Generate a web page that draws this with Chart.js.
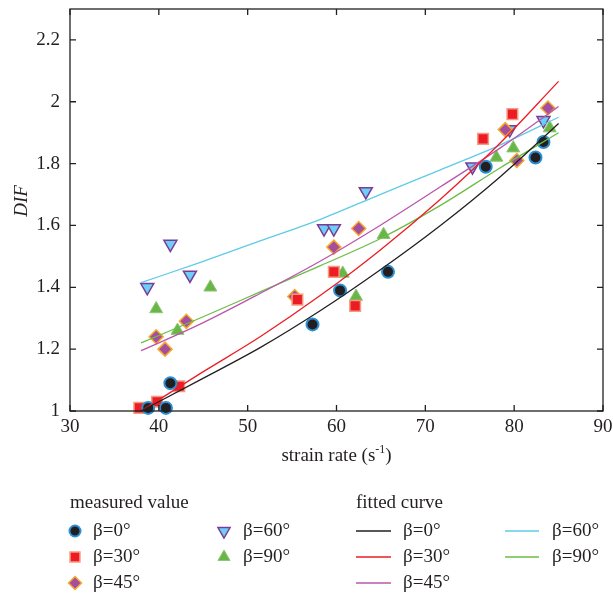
<!DOCTYPE html>
<html>
<head>
<meta charset="utf-8">
<title>DIF vs strain rate</title>
<script src="https://cdn.jsdelivr.net/npm/chart.js@4.4.0/dist/chart.umd.min.js"></script>
<style>
    html, body { margin: 0; padding: 0; background: #fff; }
    #wrap { width: 613px; height: 601px; }
</style>
</head>
<body>
<div id="wrap"><canvas id="graficoDIF" width="613" height="601"></canvas></div>
<script>
// axis ticks
var xTicks = [30, 40, 50, 60, 70, 80, 90];
var yTicks = [1, 1.2, 1.4, 1.6, 1.8, 2, 2.2];
var yTickLabels = ["1", "1.2", "1.4", "1.6", "1.8", "2", "2.2"];

// measured values
var rate0 = [38.8, 40.8, 41.3, 57.3, 60.4, 65.8, 76.8, 82.4, 83.3];
var dif0 = [1.01, 1.01, 1.09, 1.28, 1.39, 1.45, 1.79, 1.82, 1.87];
var rate30 = [37.8, 39.8, 42.3, 55.6, 59.7, 62.1, 76.5, 79.8];
var dif30 = [1.01, 1.03, 1.08, 1.36, 1.45, 1.34, 1.88, 1.96];
var rate45 = [39.7, 40.7, 43.1, 55.3, 59.7, 62.5, 79.0, 80.3, 83.8];
var dif45 = [1.24, 1.20, 1.29, 1.37, 1.53, 1.59, 1.91, 1.81, 1.98];
var rate60 = [38.7, 41.3, 43.5, 58.6, 59.7, 63.3, 75.3, 79.5, 83.3];
var dif60 = [1.40, 1.54, 1.44, 1.59, 1.59, 1.71, 1.79, 1.91, 1.94];
var rate90 = [39.7, 42.1, 45.8, 60.7, 62.2, 65.3, 78.0, 79.9, 84.0];
var dif90 = [1.33, 1.26, 1.40, 1.445, 1.37, 1.57, 1.82, 1.85, 1.915];

// fitted curves
var fitRate = [38, 44.6, 51.4, 58.2, 64.9, 71.7, 78.4, 85];
var fit0 = [1.00, 1.10, 1.205, 1.325, 1.456, 1.60, 1.757, 1.93];
var fit30 = [1.00, 1.12, 1.24, 1.374, 1.52, 1.685, 1.866, 2.066];
var fit45 = [1.195, 1.28, 1.38, 1.485, 1.60, 1.725, 1.85, 1.985];
var fit60 = [1.415, 1.48, 1.55, 1.62, 1.70, 1.78, 1.86, 1.95];
var fit90 = [1.22, 1.30, 1.385, 1.47, 1.557, 1.665, 1.786, 1.90];

var textColor = "#231f20";
var fontName = '"Liberation Serif", "DejaVu Serif", serif';

function pts(xs, ys) {
    return xs.map(function (x, i) { return {x: x, y: ys[i]}; });
}

var markers = [
    {label: "β=0°", style: "circle", radius: 6, rot: 0, bg: "#231f20", border: "#2b8fd4", bw: 2},
    {label: "β=30°", style: "rect", radius: 7.5, rot: 0, bg: "#ed1c24", border: "#f49a80", bw: 1.5},
    {label: "β=45°", style: "rectRot", radius: 7, rot: 0, bg: "#a54ea0", border: "#f7a928", bw: 1.5},
    {label: "β=60°", style: "triangle", radius: 7.5, rot: 180, bg: "#6dcff6", border: "#7a3c96", bw: 1.5},
    {label: "β=90°", style: "triangle", radius: 7.5, rot: 0, bg: "#6ab547", border: "#8cc873", bw: 1}
];
var lines = [
    {label: "β=0°", color: "#231f20"},
    {label: "β=30°", color: "#ed1c24"},
    {label: "β=45°", color: "#bb55ad"},
    {label: "β=60°", color: "#5fcbe6"},
    {label: "β=90°", color: "#6cbd45"}
];

var measured = [[rate0, dif0], [rate30, dif30], [rate45, dif45], [rate60, dif60], [rate90, dif90]];
var fitted = [fit0, fit30, fit45, fit60, fit90];

var datasets = [];
fitted.forEach(function (f, i) {
    datasets.push({
        label: "fit " + lines[i].label,
        data: pts(fitRate, f),
        showLine: true,
        borderColor: lines[i].color,
        backgroundColor: lines[i].color,
        borderWidth: 1.3,
        pointRadius: 0,
        cubicInterpolationMode: "monotone",
        order: 0
    });
});
measured.forEach(function (m, i) {
    var mk = markers[i];
    datasets.push({
        label: mk.label,
        data: pts(m[0], m[1]),
        pointStyle: mk.style,
        pointRadius: mk.radius,
        pointRotation: mk.rot,
        pointBackgroundColor: mk.bg,
        pointBorderColor: mk.border,
        pointBorderWidth: mk.bw,
        showLine: false,
        clip: false,
        order: 1
    });
});

// frame with inward ticks on all four sides, axis titles and legend
var decorPlugin = {
    id: "decor",
    afterDraw: function (chart) {
        var ctx = chart.ctx;
        var a = chart.chartArea;
        var sx = chart.scales.x, sy = chart.scales.y;
        ctx.save();
        ctx.strokeStyle = textColor;
        ctx.lineWidth = 1.3;
        ctx.strokeRect(a.left, a.top, a.right - a.left, a.bottom - a.top);
        ctx.beginPath();
        xTicks.forEach(function (v) {
            var px = sx.getPixelForValue(v);
            ctx.moveTo(px, a.bottom); ctx.lineTo(px, a.bottom - 6);
            ctx.moveTo(px, a.top); ctx.lineTo(px, a.top + 6);
        });
        yTicks.forEach(function (v) {
            var py = sy.getPixelForValue(v);
            ctx.moveTo(a.left, py); ctx.lineTo(a.left + 6, py);
            ctx.moveTo(a.right, py); ctx.lineTo(a.right - 6, py);
        });
        ctx.stroke();

        ctx.fillStyle = textColor;
        ctx.textBaseline = "middle";

        // y title
        ctx.save();
        ctx.translate(22, 201);
        ctx.rotate(-Math.PI / 2);
        ctx.textAlign = "center";
        ctx.font = "italic 19px " + fontName;
        ctx.fillText("DIF", 0, 0);
        ctx.restore();

        // x title with superscript
        var cx = (a.left + a.right) / 2, ty = 456;
        ctx.textAlign = "left";
        ctx.font = "19px " + fontName;
        var t1 = "strain rate (s", t3 = ")";
        var w1 = ctx.measureText(t1).width, w3 = ctx.measureText(t3).width;
        ctx.font = "12px " + fontName;
        var w2 = ctx.measureText("-1").width;
        var x0 = cx - (w1 + w2 + w3) / 2;
        ctx.font = "19px " + fontName;
        ctx.fillText(t1, x0, ty);
        ctx.font = "12px " + fontName;
        ctx.fillText("-1", x0 + w1, ty - 6);
        ctx.font = "19px " + fontName;
        ctx.fillText(t3, x0 + w1 + w2, ty);

        // legend
        ctx.fillText("measured value", 70, 503);
        ctx.fillText("fitted curve", 356, 503);
        var rows = [531, 557, 583];
        var markerPos = [[75, 93], [224, 243]];
        markers.forEach(function (mk, i) {
            var col = i < 3 ? 0 : 1, row = i < 3 ? i : i - 3;
            var y = rows[row];
            ctx.fillStyle = mk.bg;
            ctx.strokeStyle = mk.border;
            ctx.lineWidth = mk.bw;
            Chart.helpers.drawPoint(ctx, {pointStyle: mk.style, radius: mk.radius - 0.5, rotation: mk.rot, borderWidth: mk.bw}, markerPos[col][0], y);
            ctx.fillStyle = textColor;
            ctx.font = "19px " + fontName;
            ctx.fillText(mk.label, markerPos[col][1], y);
        });
        var linePos = [[356, 391, 403], [505, 539, 552]];
        lines.forEach(function (ln, i) {
            var col = i < 3 ? 0 : 1, row = i < 3 ? i : i - 3;
            var y = rows[row];
            ctx.strokeStyle = ln.color;
            ctx.lineWidth = 1.5;
            ctx.beginPath();
            ctx.moveTo(linePos[col][0], y);
            ctx.lineTo(linePos[col][1], y);
            ctx.stroke();
            ctx.fillStyle = textColor;
            ctx.fillText(ln.label, linePos[col][2], y);
        });
        ctx.restore();
    }
};

var ctx = document.getElementById("graficoDIF");
var myChart = new Chart(ctx, {
    type: "scatter",
    data: {datasets: datasets},
    options: {
        responsive: false,
        animation: false,
        layout: {padding: {top: 4, right: 10, left: 0, bottom: 0}},
        plugins: {legend: {display: false}, tooltip: {enabled: false}},
        scales: {
            x: {
                type: "linear", min: 30, max: 90,
                grid: {display: false, drawTicks: false},
                border: {display: false},
                ticks: {
                    padding: 5, color: textColor, font: {family: fontName, size: 19},
                    maxRotation: 0,
                    callback: function (v) { return String(v); }
                },
                afterBuildTicks: function (s) { s.ticks = xTicks.map(function (v) { return {value: v}; }); },
                afterFit: function (s) { s.height = 190; s.paddingLeft = 0; s.paddingRight = 0; }
            },
            y: {
                type: "linear", min: 1, max: 2.3,
                grid: {display: false, drawTicks: false},
                border: {display: false},
                ticks: {
                    padding: 10, color: textColor, font: {family: fontName, size: 19},
                    callback: function (v, i) { return yTickLabels[i]; }
                },
                afterBuildTicks: function (s) { s.ticks = yTicks.map(function (v) { return {value: v}; }); },
                afterFit: function (s) { s.width = 70; s.paddingTop = 0; s.paddingBottom = 0; }
            }
        }
    },
    plugins: [decorPlugin]
});
</script>
</body>
</html>
